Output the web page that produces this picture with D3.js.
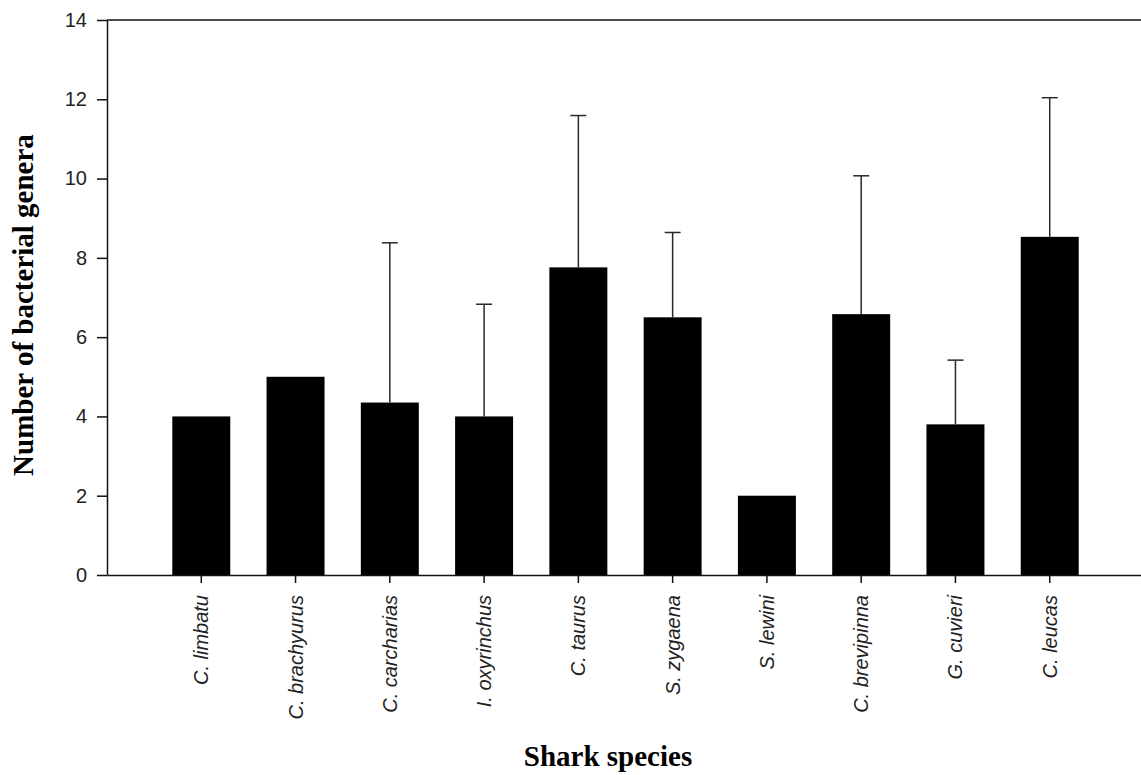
<!DOCTYPE html>
<html>
<head>
<meta charset="utf-8">
<script src="https://cdn.jsdelivr.net/npm/d3@7/dist/d3.min.js"></script>
<style>
  html, body { margin: 0; padding: 0; background: #fff; }
  svg { display: block; }
</style>
</head>
<body>
<svg id="chart" width="1141" height="775"></svg>
<script>
const categories = ["C. limbatu", "C. brachyurus", "C. carcharias", "I. oxyrinchus", "C. taurus",
                    "S. zygaena", "S. lewini", "C. brevipinna", "G. cuvieri", "C. leucas"];
const meanValues = [4.0, 5.0, 4.35, 4.0, 7.76, 6.5, 2.0, 6.58, 3.8, 8.53];
const upperValues = [null, null, 8.38, 6.83, 11.59, 8.64, null, 10.07, 5.42, 12.04];
const yTicks = [0, 2, 4, 6, 8, 10, 12, 14];
const xTitle = "Shark species";
const yTitle = "Number of bacterial genera";

(function () {
const svg = d3.select("#chart");
const mLeft = 107, mRight = 1144, mTop = 20, mBottom = 575;

const x = d3.scaleBand().domain(categories).range([mLeft, mRight])
  .paddingInner(0.385).paddingOuter(0.6925);
const y = d3.scaleLinear().domain([0, 14]).range([mBottom, mTop]);

const axisColor = "#111";

// bars
svg.append("g").selectAll("rect").data(categories).join("rect")
  .attr("x", d => x(d))
  .attr("width", x.bandwidth())
  .attr("y", (d, i) => y(meanValues[i]))
  .attr("height", (d, i) => y(0) - y(meanValues[i]))
  .attr("fill", "#000");

// error bars (upper only)
const errData = categories.map((c, i) => ({c, m: meanValues[i], u: upperValues[i]})).filter(d => d.u != null);
const eg = svg.append("g").attr("stroke", "#2a2a2a").attr("stroke-width", 1.5);
eg.selectAll("line.v").data(errData).join("line").attr("class", "v")
  .attr("x1", d => x(d.c) + x.bandwidth() / 2).attr("x2", d => x(d.c) + x.bandwidth() / 2)
  .attr("y1", d => y(d.m)).attr("y2", d => y(d.u));
eg.selectAll("line.cap").data(errData).join("line").attr("class", "cap")
  .attr("x1", d => x(d.c) + x.bandwidth() / 2 - 8).attr("x2", d => x(d.c) + x.bandwidth() / 2 + 8)
  .attr("y1", d => y(d.u)).attr("y2", d => y(d.u));

// y axis
const yAxis = svg.append("g").attr("transform", `translate(${mLeft},0)`)
  .call(d3.axisLeft(y).tickValues(yTicks).tickSize(10).tickPadding(10).tickSizeOuter(0));
yAxis.select(".domain").attr("stroke", axisColor).attr("stroke-width", 1.5);
yAxis.selectAll(".tick line").attr("stroke", axisColor).attr("stroke-width", 1.5);
yAxis.selectAll(".tick text").attr("font-family", "'Liberation Sans', Arial, sans-serif")
  .attr("font-size", 20).attr("fill", "#222");

// top frame line
svg.append("line").attr("x1", mLeft).attr("x2", mRight).attr("y1", y(14)).attr("y2", y(14))
  .attr("stroke", axisColor).attr("stroke-width", 1.5);

// x axis
const xAxis = svg.append("g").attr("transform", `translate(0,${mBottom})`)
  .call(d3.axisBottom(x).tickSize(8).tickSizeOuter(0));
xAxis.select(".domain").attr("stroke", axisColor).attr("stroke-width", 1.5);
xAxis.selectAll(".tick line").attr("stroke", axisColor).attr("stroke-width", 1.5);
xAxis.selectAll(".tick text")
  .attr("font-family", "'Liberation Sans', Arial, sans-serif")
  .attr("font-style", "italic")
  .attr("font-size", 20).attr("fill", "#222")
  .attr("text-anchor", "end")
  .attr("transform", "translate(0,20) rotate(-90)")
  .attr("x", 0).attr("y", 0).attr("dy", "0.35em");

// axis titles
svg.append("text")
  .attr("transform", "translate(33,305) rotate(-90)")
  .attr("text-anchor", "middle")
  .attr("font-family", "'Liberation Serif', 'Times New Roman', serif")
  .attr("font-weight", "bold").attr("font-size", 29).attr("fill", "#000")
  .text(yTitle);

svg.append("text")
  .attr("x", 608).attr("y", 766)
  .attr("text-anchor", "middle")
  .attr("font-family", "'Liberation Serif', 'Times New Roman', serif")
  .attr("font-weight", "bold").attr("font-size", 29).attr("fill", "#000")
  .text(xTitle);
})();
</script>
</body>
</html>
